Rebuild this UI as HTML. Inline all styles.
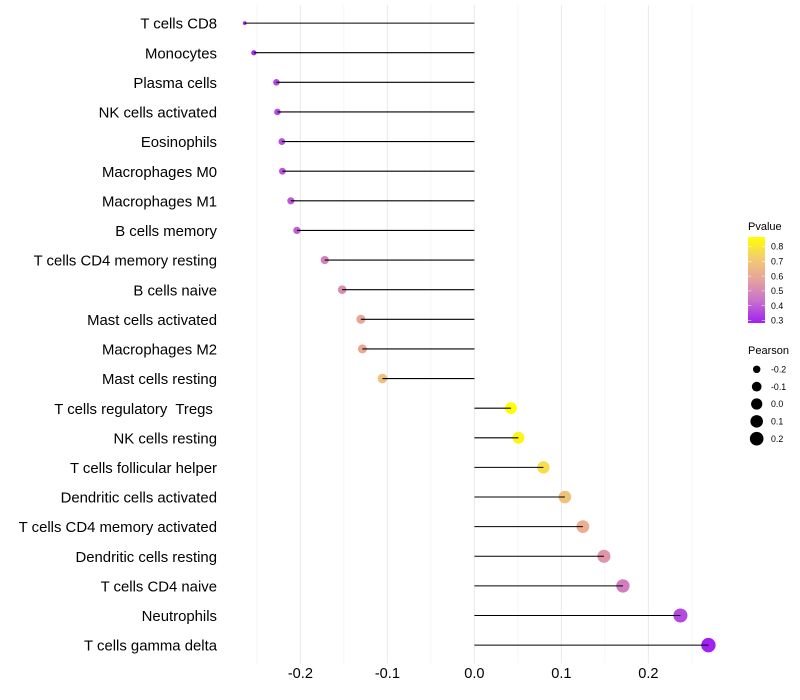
<!DOCTYPE html>
<html lang="en">
<head>
<meta charset="utf-8">
<title>Immune cell correlation lollipop chart</title>
<style>
  html, body { margin: 0; padding: 0; background: #fff; }
  svg { display: block; font-family: "Liberation Sans", Arial, sans-serif; }
  text { white-space: pre; fill: #000; }
</style>
</head>
<body>
<svg id="chart" width="800" height="700" viewBox="0 0 800 700" xmlns="http://www.w3.org/2000/svg">
  <defs>
    <linearGradient id="pvalue-gradient" x1="0" y1="1" x2="0" y2="0">
      <stop offset="0" stop-color="#A020F0"/>
      <stop offset="0.25" stop-color="#C76FCE"/>
      <stop offset="0.5" stop-color="#E6A29E"/>
      <stop offset="0.75" stop-color="#F3CB72"/>
      <stop offset="1" stop-color="#FFFF00"/>
    </linearGradient>
  </defs>
  <rect width="800" height="700" fill="#fff"/>
  <g id="grid"></g>
  <g id="marks"></g>
  <g id="y-axis"></g>
  <g id="x-axis"></g>
  <g id="legend-p">
    <text x="748" y="230" font-size="11">Pvalue</text>
    <rect x="748" y="237" width="17" height="86" fill="url(#pvalue-gradient)"/>
  </g>
  <g id="legend-s">
    <text x="748" y="354" font-size="11">Pearson</text>
  </g>
</svg>
<script>
const categories = ["T cells CD8","Monocytes","Plasma cells","NK cells activated","Eosinophils","Macrophages M0","Macrophages M1","B cells memory","T cells CD4 memory resting","B cells naive","Mast cells activated","Macrophages M2","Mast cells resting","T cells regulatory  Tregs ","NK cells resting","T cells follicular helper","Dendritic cells activated","T cells CD4 memory activated","Dendritic cells resting","T cells CD4 naive","Neutrophils","T cells gamma delta"];
const pearson = [-0.264,-0.2535,-0.2276,-0.2264,-0.2213,-0.2207,-0.211,-0.204,-0.172,-0.152,-0.1305,-0.1287,-0.1057,0.042,0.0506,0.0793,0.104,0.1247,0.1489,0.1707,0.2368,0.269];
const pvalue = [0.29,0.31,0.36,0.37,0.375,0.38,0.39,0.40,0.48,0.52,0.59,0.60,0.68,0.865,0.84,0.77,0.69,0.62,0.54,0.47,0.36,0.285];
const xMajorTicks = [-0.2,-0.1,0,0.1,0.2];
const xMinorTicks = [-0.25,-0.15,-0.05,0.05,0.15,0.25];
const pvalueTicks = [0.3,0.4,0.5,0.6,0.7,0.8];
const pearsonLegend = [-0.2,-0.1,0,0.1,0.2];

const NS = "http://www.w3.org/2000/svg";
function mk(parent, tag, attrs, txt) {
  const el = document.createElementNS(NS, tag);
  for (const k in attrs) el.setAttribute(k, attrs[k]);
  if (txt !== undefined) el.textContent = txt;
  parent.appendChild(el);
  return el;
}
const xScale = v => 474.4 + v * 870;
const yScale = i => 23.1 + i * 29.62;
const PANEL_TOP = 5, PANEL_BOTTOM = 663.5;
const rMin = 1.9, rMax = 7.2;
const pearsonMin = Math.min(...pearson), pearsonMax = Math.max(...pearson);
function rScale(v) {
  const t = Math.max(0, Math.min(1, (v - pearsonMin) / (pearsonMax - pearsonMin)));
  return rMin + (rMax - rMin) * Math.sqrt(t);
}
const pLow = 0.283, pHigh = 0.865;
const colorStops = [[160,32,240],[199,111,206],[230,162,158],[243,203,114],[255,255,0]];
function colorScale(p) {
  const t = Math.max(0, Math.min(1, (p - pLow) / (pHigh - pLow))) * 4;
  const i = Math.min(3, Math.floor(t)), f = t - i;
  const c = colorStops[i].map((a, k) => Math.round(a + (colorStops[i + 1][k] - a) * f));
  return "rgb(" + c.join(",") + ")";
}
const pbarY = p => 320.5 - (p - 0.3) * 148;
const fmt = v => v.toFixed(1);

const grid = document.getElementById("grid");
xMinorTicks.forEach(v => {
  const l = mk(grid, "line", {x1: xScale(v), x2: xScale(v), y1: PANEL_TOP, y2: PANEL_BOTTOM, stroke: "#f0f0f0", "stroke-width": 0.6});
  
  
});
xMajorTicks.forEach(v => {
  const l = mk(grid, "line", {x1: xScale(v), x2: xScale(v), y1: PANEL_TOP, y2: PANEL_BOTTOM, stroke: "#ebebeb", "stroke-width": 1.07});
  
  
});

const marks = document.getElementById("marks");
const yAxis = document.getElementById("y-axis");
categories.forEach((name, i) => {
  const c = mk(marks, "circle", {cx: xScale(pearson[i]), cy: yScale(i), r: rScale(pearson[i]), fill: colorScale(pvalue[i])});
  
  
  const l = mk(marks, "line", {x1: xScale(0), x2: xScale(pearson[i]), y1: yScale(i), y2: yScale(i), stroke: "#000", "stroke-width": 1.07});
  
  
  const t = mk(yAxis, "text", {x: 217, y: yScale(i) + 5.6, "text-anchor": "end", "font-size": 14.9}, name);
  
  
});

const xAxis = document.getElementById("x-axis");
xMajorTicks.forEach(v => {
  const t = mk(xAxis, "text", {x: xScale(v), y: 678, "text-anchor": "middle", "font-size": 14.6}, fmt(v));
  
  
});

const legendP = document.getElementById("legend-p");
pvalueTicks.forEach(p => {
  const y = pbarY(p);
  const a = mk(legendP, "line", {x1: 748, x2: 751.4, y1: y, y2: y, stroke: "#fff", "stroke-width": 0.5});
  
  
  const b = mk(legendP, "line", {x1: 761.6, x2: 765, y1: y, y2: y, stroke: "#fff", "stroke-width": 0.5});
  
  
  const t = mk(legendP, "text", {x: 771, y: y + 3.2, "font-size": 8.8}, fmt(p));
  
  
});

const legendS = document.getElementById("legend-s");
pearsonLegend.forEach((v, i) => {
  const y = 369.3 + i * 17.35;
  const c = mk(legendS, "circle", {cx: 756.7, cy: y, r: rScale(v), fill: "#000"});
  
  
  const t = mk(legendS, "text", {x: 771, y: y + 3.2, "font-size": 8.8}, fmt(v));
  
  
});
</script>
</body>
</html>
